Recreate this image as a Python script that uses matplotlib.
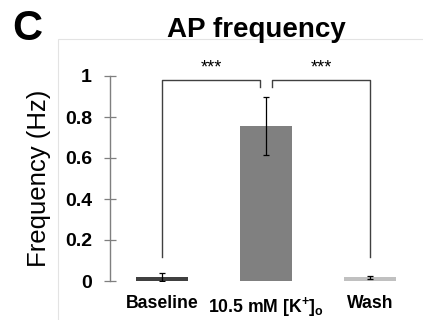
import numpy as np
import matplotlib
matplotlib.use('Agg')
import matplotlib.pyplot as plt
from matplotlib.patches import Rectangle

plt.rcParams['font.family'] = 'Liberation Sans'
plt.rcParams['mathtext.fontset'] = 'custom'
plt.rcParams['mathtext.rm'] = 'Liberation Sans'
plt.rcParams['mathtext.bf'] = 'Liberation Sans:bold'

# data
conditions = ['Baseline', r'10.5 mM [K$^\mathbf{+}$]$_\mathbf{o}$', 'Wash']
freq_mean = [0.02, 0.757, 0.018]
freq_err = [0.02, 0.14, 0.007]
bar_colors = ['#404040', '#808080', '#c0c0c0']
yticks = [0, 0.2, 0.4, 0.6, 0.8, 1]
ytick_labels = ['0', '0.2', '0.4', '0.6', '0.8', '1']
# significance brackets: (start, end, top, left leg bottom, right leg bottom)
brackets = [(0, 0.94, 0.98, 0.117, 0.946), (1.06, 2, 0.98, 0.946, 0.117)]
sig_labels = ['***', '***']

fig = plt.figure(figsize=(4.23, 3.20), dpi=100)

# light frame of the chart area
frame = Rectangle((58 / 423, -0.1), 1.0, 1 - 39 / 320 + 0.1, transform=fig.transFigure,
                  fill=False, edgecolor='#e3e3e3', lw=0.8)
fig.patches.append(frame)

ax = fig.add_axes([110 / 423, 1 - 281 / 320, 312 / 423, 205 / 320])
ax.set_facecolor('none')

x = np.arange(len(conditions))
ax.bar(x, freq_mean, width=0.5, color=bar_colors, zorder=2)
ax.errorbar(x, freq_mean, yerr=freq_err, fmt='none', ecolor='black',
            elinewidth=0.9, capsize=2, capthick=0.9, zorder=3)

for (x0, x1, top, b0, b1), lab in zip(brackets, sig_labels):
    ax.plot([x0, x0, x1, x1], [b0, top, top, b1], color='#404040', lw=1.0,
            clip_on=False, zorder=4)
    ax.text((x0 + x1) / 2, top + 0.06, lab, ha='center', va='center',
            fontsize=13, clip_on=False)

ax.set_xlim(-0.5, 2.5)
ax.set_ylim(0, 1)
ax.set_yticks(yticks)
ax.set_yticklabels(ytick_labels, fontsize=14, fontweight='bold')
ax.set_xticks(x)
ax.set_xticklabels(conditions, fontsize=12.7, fontweight='bold')
ax.tick_params(axis='x', length=0, pad=10)
ax.tick_params(axis='y', direction='inout', length=8, width=0.9,
               color='#7f7f7f', pad=9)

for s in ['top', 'right', 'bottom']:
    ax.spines[s].set_visible(False)
ax.spines['left'].set_color('#7f7f7f')
ax.spines['left'].set_linewidth(1.0)

ax.set_ylabel('Frequency (Hz)', fontsize=18.5, labelpad=10)

fig.text(256 / 423, 1 - 37 / 320, 'AP frequency', ha='center', va='baseline',
         fontsize=20, fontweight='bold')
fig.text(12 / 423, 1 - 40 / 320, 'C', ha='left', va='baseline',
         fontsize=30, fontweight='bold')

fig.savefig('out.png', dpi=100)
